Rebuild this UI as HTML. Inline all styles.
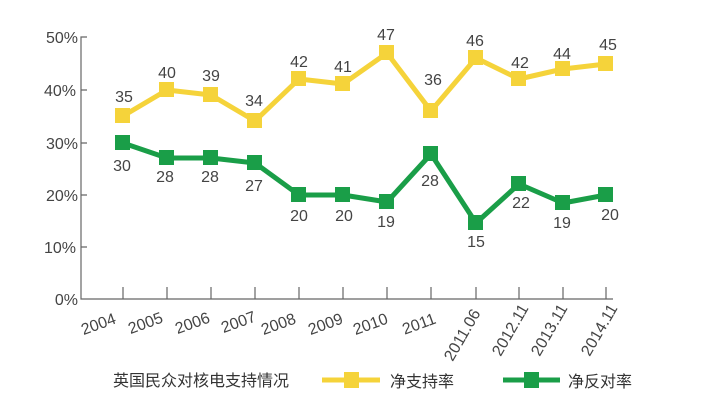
<!DOCTYPE html>
<html><head><meta charset="utf-8"><style>
html,body{margin:0;padding:0;background:#fff;}
svg{display:block;font-family:"Liberation Sans","Noto Sans CJK SC",sans-serif;}
</style></head><body>
<svg width="717" height="404" viewBox="0 0 717 404" xmlns="http://www.w3.org/2000/svg">
<g stroke="#666" stroke-width="1.2" fill="none">
<path d="M87 37 H81 V299 H613"/>
<path d="M81 90 H87 M81 143 H87 M81 195 H87 M81 247 H87"/>
<path d="M123 299 V287 M167 299 V287 M211 299 V287 M255 299 V287 M299 299 V287 M343 299 V287 M387 299 V287 M431 299 V287 M476 299 V287 M519 299 V287 M563 299 V287 M606 299 V287"/>
</g>
<g fill="#444" font-size="16" text-anchor="end">
<text x="78" y="43">50%</text><text x="76" y="96">40%</text><text x="78" y="149">30%</text>
<text x="78" y="201">20%</text><text x="76" y="253">10%</text><text x="78" y="305">0%</text>
</g>
<g fill="#444" font-size="16" text-anchor="end">
<text transform="translate(117,323) rotate(-20)">2004</text>
<text transform="translate(164,322) rotate(-20)">2005</text>
<text transform="translate(211,322) rotate(-20)">2006</text>
<text transform="translate(257,321) rotate(-20)">2007</text>
<text transform="translate(297,323) rotate(-20)">2008</text>
<text transform="translate(344,323) rotate(-20)">2009</text>
<text transform="translate(389,323) rotate(-20)">2010</text>
<text transform="translate(437,323) rotate(-20)">2011</text>
<text transform="translate(481,313) rotate(-60)">2011.06</text>
<text transform="translate(529,308) rotate(-60)">2012.11</text>
<text transform="translate(568,308) rotate(-60)">2013.11</text>
<text transform="translate(618,308) rotate(-60)">2014.11</text>
</g>
<polyline fill="none" stroke="#f5d33a" stroke-width="5" stroke-linejoin="round" points="123,116 167,90 211,95 255,121 299,79 343,84 387,53 431,111 476,58 519,79 563,69 606,64"/>
<g fill="#f5d33a">
<rect x="115" y="108" width="15" height="15"/><rect x="159" y="82" width="15" height="15"/><rect x="203" y="87" width="15" height="15"/><rect x="247" y="113" width="15" height="15"/><rect x="291" y="71" width="15" height="15"/><rect x="335" y="76" width="15" height="15"/><rect x="379" y="45" width="15" height="15"/><rect x="423" y="103" width="15" height="15"/><rect x="468" y="50" width="15" height="15"/><rect x="511" y="71" width="15" height="15"/><rect x="555" y="61" width="15" height="15"/><rect x="598" y="56" width="15" height="15"/>
</g>
<polyline fill="none" stroke="#1a9e48" stroke-width="5" stroke-linejoin="round" points="123,143 167,158 211,158 255,163 299,195 343,195 387,202 431,154 476,223 519,184 563,203 606,195"/>
<g fill="#1a9e48">
<rect x="115" y="135" width="15" height="15"/><rect x="159" y="150" width="15" height="15"/><rect x="203" y="150" width="15" height="15"/><rect x="247" y="155" width="15" height="15"/><rect x="291" y="187" width="15" height="15"/><rect x="335" y="187" width="15" height="15"/><rect x="379" y="194" width="15" height="15"/><rect x="423" y="146" width="15" height="15"/><rect x="468" y="215" width="15" height="15"/><rect x="511" y="176" width="15" height="15"/><rect x="555" y="195" width="15" height="15"/><rect x="598" y="187" width="15" height="15"/>
</g>
<g fill="#444" font-size="16" text-anchor="middle">
<text x="124" y="102">35</text><text x="167" y="78">40</text><text x="211" y="81">39</text><text x="254" y="106">34</text><text x="299" y="67">42</text><text x="343" y="72">41</text><text x="386" y="40">47</text><text x="433" y="85">36</text><text x="475" y="46">46</text><text x="520" y="68">42</text><text x="562" y="59">44</text><text x="608" y="50">45</text>
<text x="122" y="171">30</text><text x="165" y="182">28</text><text x="210" y="182">28</text><text x="254" y="191">27</text><text x="299" y="221">20</text><text x="344" y="221">20</text><text x="386" y="227">19</text><text x="430" y="186">28</text><text x="476" y="247">15</text><text x="521" y="208">22</text><text x="562" y="228">19</text><text x="610" y="220">20</text>
</g>
<text x="113" y="386" font-size="16" fill="#333">英国民众对核电支持情况</text>
<line x1="322" y1="380" x2="380" y2="380" stroke="#f5d33a" stroke-width="5"/>
<rect x="344" y="372" width="15" height="16" fill="#f5d33a"/>
<text x="390" y="387" font-size="16" fill="#333">净支持率</text>
<line x1="503" y1="380" x2="560" y2="380" stroke="#1a9e48" stroke-width="5"/>
<rect x="524" y="372" width="15" height="16" fill="#1a9e48"/>
<text x="568" y="387" font-size="16" fill="#333">净反对率</text>
</svg>
</body></html>
